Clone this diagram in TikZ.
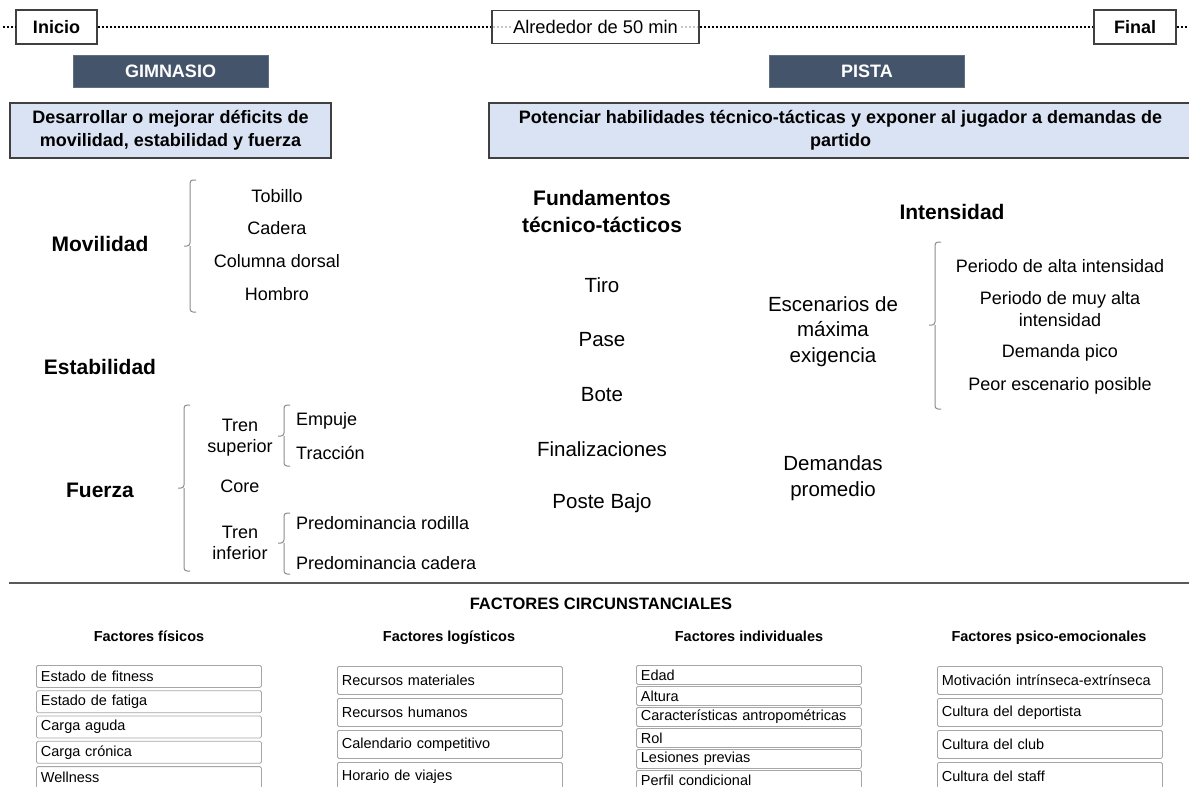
\documentclass[tikz,border=0pt]{standalone}
\usepackage{fontspec}
\setmainfont{Liberation Sans}
\definecolor{hdr}{HTML}{44546A}
\definecolor{lblue}{HTML}{DAE3F3}
\definecolor{bord}{HTML}{404040}
\definecolor{brk}{HTML}{8C8C8C}
\definecolor{fbox}{HTML}{A6A6A6}
\definecolor{dotgrey}{HTML}{C8C8C8}
\definecolor{sepc}{HTML}{595959}
\newcommand{\fsz}[2]{\fontsize{#1}{#2}\selectfont}
\newcommand{\mybracket}[4]{\draw[brace] ({#1+6},#2) -- (#1,#2) -- (#1,#4) -- ({#1-6},#4) (#1,#4) -- (#1,#3) -- ({#1+6},#3);}
\begin{document}
\begin{tikzpicture}[x=1pt,y=-1pt,
  tl/.style={draw=bord, line width=1.2pt, fill=white, inner sep=0pt},
  dots/.style={line width=2pt, dash pattern=on 2pt off 2pt},
  hdrbox/.style={fill=hdr, draw=hdr!85!white, minimum height=32pt, minimum width=195pt, text=white, font=\fsz{18}{21}\bfseries, inner sep=0pt},
  goal/.style={fill=lblue, draw=bord, line width=1.5pt, align=center, font=\fsz{18}{23}\bfseries, inner sep=0pt, minimum height=55pt},
  head/.style={font=\fsz{21}{27}\bfseries, align=center, inner sep=0pt},
  item/.style={font=\fsz{18}{22}, align=center, inner sep=0pt},
  big/.style={font=\fsz{20.5}{25.5}, align=center, inner sep=0pt},
  brace/.style={draw=brk, line width=1pt, rounded corners=3pt},
  fhead/.style={font=\fsz{14.5}{17}\bfseries, inner sep=0pt, anchor=base},
  fitem/.style={draw=fbox, line width=0.8pt, rounded corners=1.5pt, anchor=north west, text width=216pt, inner xsep=4.5pt, inner ysep=0pt, align=left, font=\fsz{14.5}{17}}
]
\useasboundingbox (0,0) rectangle (1189,787);
\fill[white] (0,0) rectangle (1189,787);

% timeline
\node[tl, minimum width=81pt, minimum height=34pt, font=\fsz{18}{21}\bfseries] (ini) at (56.5,27) {Inicio};
\node[tl, minimum width=82pt, minimum height=34pt, font=\fsz{18}{21}\bfseries] (fin) at (1135,27) {Final};
\node[tl, fill=none, minimum width=207pt, minimum height=33pt] (alr) at (595.5,27) {};
\coordinate (tl0) at (3,27);
\coordinate (tl1) at (1188,27);
\draw[dots] (tl0) -- (ini.west);
\draw[dots] (ini.east) -- (alr.west);
\draw[dots] (alr.east) -- (fin.west);
\draw[dots] (fin.east) -- (tl1);
\draw[dots, draw=dotgrey, shorten <=2pt, shorten >=2pt] (alr.west) -- (alr.east);
\node[fill=white, inner sep=1pt, font=\fsz{18.3}{21}] (alrt) at (alr.center) {Alrededor de 50 min};

% headers
\node[hdrbox] (gim) at (170.5,71) {GIMNASIO};
\node[hdrbox] (pista) at (867,71) {PISTA};
\node[goal, minimum width=321pt] (goalL) at (170.5,130.5) {Desarrollar o mejorar déficits de\\movilidad, estabilidad y fuerza};
\node[goal, minimum width=703pt] (goalR) at (840.5,130.5) {Potenciar habilidades técnico-tácticas y exponer al jugador a demandas de\\partido};

% left column
\node[head] (mov) at (100,244) {Movilidad};
\node[head] (est) at (100,367) {Estabilidad};
\node[head] (fue) at (100,490) {Fuerza};
\mybracket{190}{180}{312}{246}
\node[item] (tob) at (277,196) {Tobillo};
\node[item] (cad) at (277,228) {Cadera};
\node[item] (col) at (277,261) {Columna dorsal};
\node[item] (hom) at (277,294) {Hombro};
\mybracket{184}{405}{571}{488}
\node[item, font=\fsz{18}{21}] (tsup) at (240,437.5) {Tren\\superior};
\node[item] (core) at (240,486) {Core};
\node[item, font=\fsz{18}{21}] (tinf) at (240,542.5) {Tren\\inferior};
\mybracket{284}{405}{466}{436}
\mybracket{284}{513}{574}{543}
\node[item, anchor=west] (emp) at (296,421) {Empuje};
\node[item, anchor=west] (tra) at (296,453) {Tracción};
\node[item, anchor=west] (rod) at (296,523) {Predominancia rodilla};
\node[item, anchor=west] (pcad) at (296,563) {Predominancia cadera};

% middle column
\node[head] (fund) at (602,211.5) {Fundamentos\\técnico-tácticos};
\node[big] (tiro) at (602,285) {Tiro};
\node[big] (pase) at (602,340) {Pase};
\node[big] (bote) at (602,395) {Bote};
\node[big] (finz) at (602,449) {Finalizaciones};
\node[big] (poste) at (602,503) {Poste Bajo};

% right column
\node[head] (inten) at (952,212) {Intensidad};
\node[big] (esc) at (833,331.5) {Escenarios de\\máxima\\exigencia};
\node[big] (dem) at (833,478) {Demandas\\promedio};
\mybracket{935}{242}{409}{325}
\node[item] (p1) at (1060,266) {Periodo de alta intensidad};
\node[item] (p2) at (1060,309) {Periodo de muy alta\\intensidad};
\node[item] (p3) at (1060,353) {Demanda pico};
\node[item] (p4) at (1060,386) {Peor escenario posible};

% bottom
\coordinate (sep0) at (9,583);
\coordinate (sep1) at (1189,583);
\draw[draw=sepc, line width=2pt] (sep0) -- (sep1);
\node[fhead, font=\fsz{16.5}{19}\bfseries] (fc) at (601,609) {FACTORES CIRCUNSTANCIALES};
\node[fhead] (hfis) at (149,641) {Factores físicos};
\node[fhead] (hlog) at (449,641) {Factores logísticos};
\node[fhead] (hind) at (749,641) {Factores individuales};
\node[fhead] (hpsi) at (1049,641) {Factores psico-emocionales};

\foreach \t [count=\i from 0] in {Estado de fitness, Estado de fatiga, Carga aguda, Carga crónica, Wellness}
  \node[fitem, minimum height=22pt] (fis\i) at (36,{665+25.3*\i}) {\t};
\foreach \t [count=\i from 0] in {Recursos materiales, Recursos humanos, Calendario competitivo, Horario de viajes}
  \node[fitem, minimum height=28pt] (log\i) at (337,{666+32*\i}) {\t};
\foreach \t [count=\i from 0] in {Edad, Altura, Características antropométricas, Rol, Lesiones previas, Perfil condicional}
  \node[fitem, minimum height=19pt] (ind\i) at (636,{665+21*\i}) {\t};
\foreach \t [count=\i from 0] in {Motivación intrínseca-extrínseca, Cultura del deportista, Cultura del club, Cultura del staff}
  \node[fitem, minimum height=28pt] (psi\i) at (937,{666+32*\i}) {\t};
\end{tikzpicture}
\end{document}
